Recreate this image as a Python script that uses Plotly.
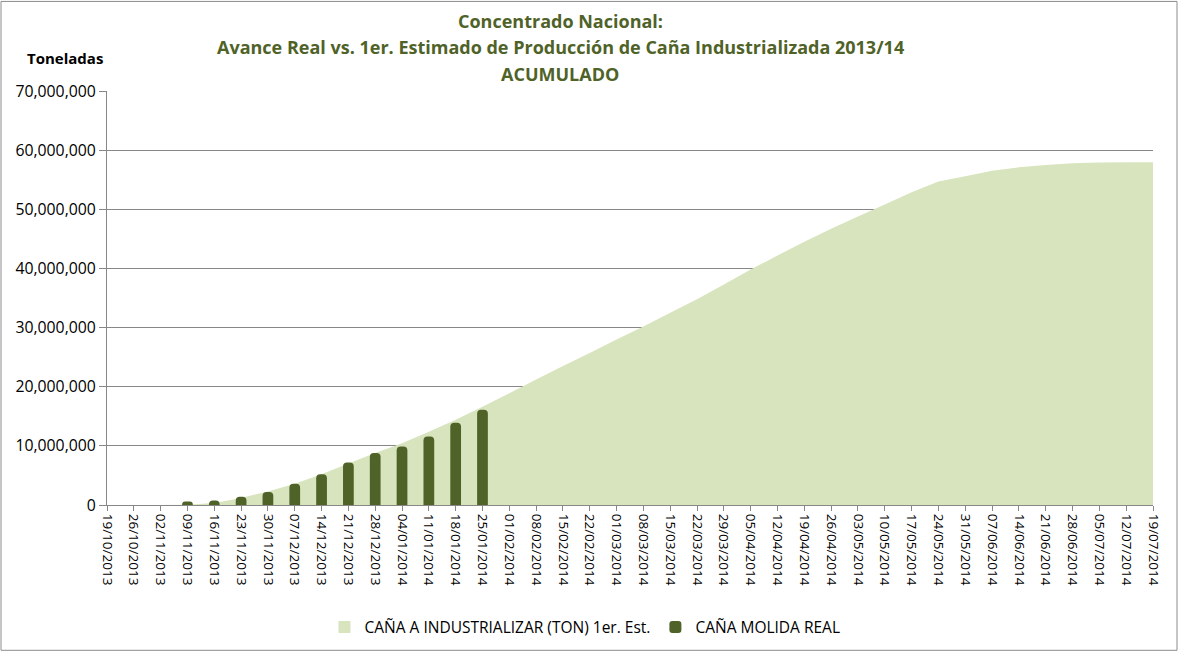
import plotly.graph_objects as go

fechas = ["19/10/2013", "26/10/2013", "02/11/2013", "09/11/2013", "16/11/2013", "23/11/2013",
          "30/11/2013", "07/12/2013", "14/12/2013", "21/12/2013", "28/12/2013", "04/01/2014",
          "11/01/2014", "18/01/2014", "25/01/2014", "01/02/2014", "08/02/2014", "15/02/2014",
          "22/02/2014", "01/03/2014", "08/03/2014", "15/03/2014", "22/03/2014", "29/03/2014",
          "05/04/2014", "12/04/2014", "19/04/2014", "26/04/2014", "03/05/2014", "10/05/2014",
          "17/05/2014", "24/05/2014", "31/05/2014", "07/06/2014", "14/06/2014", "21/06/2014",
          "28/06/2014", "05/07/2014", "12/07/2014", "19/07/2014"]

estimado = [0, 0, 0, 50000, 350000, 1200000,
            2300000, 3600000, 5200000, 7000000, 8800000, 10450000,
            12400000, 14400000, 16600000, 18900000, 21200000, 23500000,
            25700000, 28000000, 30200000, 32500000, 34800000, 37300000,
            39800000, 42200000, 44500000, 46700000, 48800000, 50800000,
            52900000, 54700000, 55600000, 56500000, 57100000, 57500000,
            57800000, 57900000, 57950000, 57950000]

real_fechas = fechas[3:15]
real = [600000, 750000, 1400000, 2200000, 3600000, 5200000, 7200000,
        8800000, 9900000, 11600000, 13900000, 16100000]

nombre_est = "CAÑA A INDUSTRIALIZAR (TON) 1er. Est."
nombre_real = "CAÑA MOLIDA REAL"

FONT = "Open Sans"
GREEN = "#4F6228"
LIGHT = "#D7E4BD"
GRID = "#878787"

fig = go.Figure()
# area (estimated)
fig.add_trace(go.Scatter(
    x=fechas, y=estimado, mode="none", fill="tozeroy", fillcolor=LIGHT,
    name=nombre_est, showlegend=False, legendgroup="est"))
# legend swatch for the area (square, like the original)
fig.add_trace(go.Bar(
    x=[None], y=[None], marker=dict(color=LIGHT, cornerradius=0, line=dict(width=0)),
    name=nombre_est, legendgroup="est", showlegend=True, xaxis="x2", yaxis="y2"))
# real bars, drawn on an overlaying axis so they sit above the area
fig.add_trace(go.Bar(
    x=real_fechas, y=real, marker=dict(color=GREEN, cornerradius=4, line=dict(width=0)),
    width=0.4, name=nombre_real, xaxis="x2", yaxis="y2"))

ml, mr, mt, mb = 107, 26, 91, 149
W, H = 1179, 656
pw, ph = W - ml - mr, H - mt - mb

def px(xp):
    return (xp - ml) / pw

def py(yp):
    return (H - mb - yp) / ph

title_font = dict(family=FONT, size=18, color=GREEN)
annots = [
    dict(text="<b>Concentrado Nacional:</b>", x=px(560), y=py(21)),
    dict(text="<b>Avance Real vs. 1er. Estimado de Producción de Caña Industrializada 2013/14</b>", x=px(560), y=py(47)),
    dict(text="<b>ACUMULADO</b>", x=px(560), y=py(74)),
]
for a in annots:
    fig.add_annotation(xref="paper", yref="paper", showarrow=False,
                       xanchor="center", yanchor="middle", font=title_font, **a)
fig.add_annotation(text="<b>Toneladas</b>", xref="paper", yref="paper", x=px(65), y=py(58),
                   showarrow=False, xanchor="center", yanchor="middle",
                   font=dict(family=FONT, size=15, color="black"))

fig.add_shape(type="rect", xref="paper", yref="paper",
              x0=px(1), x1=px(1177), y0=py(653), y1=py(1),
              line=dict(color="#8c8c8c", width=1), fillcolor="rgba(0,0,0,0)", layer="below")

xcommon = dict(type="category", categoryorder="array", categoryarray=fechas,
               range=[0, len(fechas) - 1], fixedrange=True)
ycommon = dict(range=[0, 70000000], fixedrange=True)

fig.update_layout(
    width=W, height=H,
    margin=dict(l=ml, r=mr, t=mt, b=mb, pad=0),
    paper_bgcolor="white", plot_bgcolor="white",
    font=dict(family=FONT, color="black"),
    showlegend=True,
    legend=dict(orientation="h", xanchor="center", yanchor="middle",
                x=px(585), y=py(630), font=dict(family=FONT, size=15.5, color="black"),
                itemwidth=30, traceorder="normal", bgcolor="rgba(0,0,0,0)"),
    xaxis=dict(**xcommon, tickangle=90, ticks="outside", ticklen=5,
               tickcolor=GRID, showline=True, linecolor=GRID, linewidth=1,
               showgrid=False, tickfont=dict(family=FONT, size=13.5, color="black")),
    yaxis=dict(**ycommon, dtick=10000000, tickformat=",", ticks="outside",
               ticklen=7, tickcolor=GRID, showline=True, linecolor=GRID, linewidth=1,
               showgrid=True, gridcolor=GRID, gridwidth=1, zeroline=False,
               tickfont=dict(family=FONT, size=15.8, color="black")),
    xaxis2=dict(**xcommon, overlaying="x", visible=False),
    yaxis2=dict(**ycommon, overlaying="y", visible=False),
)

fig.write_html("out.html", config={"displayModeBar": False},
               post_script="document.body.style.margin='0';")
